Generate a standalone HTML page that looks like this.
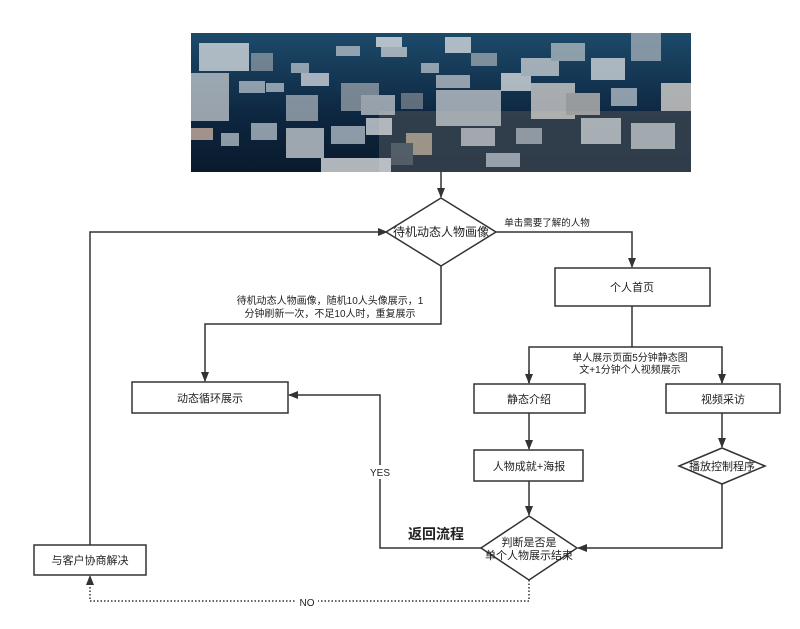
<!DOCTYPE html>
<html><head><meta charset="utf-8"><style>
body{margin:0;background:#fff;width:800px;height:624px;overflow:hidden}
svg text{font-family:"Liberation Sans","Noto Sans CJK SC",sans-serif;fill:#222}
</style></head><body>
<svg width="800" height="624" viewBox="0 0 800 624" xmlns="http://www.w3.org/2000/svg">
<defs>
<linearGradient id="bg" x1="0" y1="0" x2="0" y2="1"><stop offset="0" stop-color="#1d4a6a"/><stop offset="0.6" stop-color="#0d2640"/><stop offset="1" stop-color="#0a1a2c"/></linearGradient>
<marker id="a" markerWidth="10" markerHeight="10" refX="9" refY="5" orient="auto" markerUnits="userSpaceOnUse"><path d="M0,1 L10,5 L0,9 z" fill="#333"/></marker>
</defs>
<g transform="translate(191,33)">
<rect width="500" height="139" fill="url(#bg)"/>
<rect x="188" y="78" width="312" height="61" fill="#3a4550" opacity="0.8"/>
<g fill="#b9c3cc" opacity="0.75">
<rect x="8" y="10" width="50" height="28" fill="#dfe3e6"/><rect x="0" y="40" width="38" height="48" fill="#c7ccd0"/>
<rect x="48" y="48" width="26" height="12"/><rect x="60" y="20" width="22" height="18" fill="#8e9aa5"/>
<rect x="75" y="50" width="18" height="9"/><rect x="100" y="30" width="18" height="10"/>
<rect x="110" y="40" width="28" height="13" fill="#d7dde2"/><rect x="150" y="50" width="38" height="28" fill="#9aa3ab"/>
<rect x="170" y="62" width="34" height="20" fill="#c4c9cd"/><rect x="210" y="60" width="22" height="16" fill="#7d868e"/>
<rect x="95" y="62" width="32" height="26" fill="#a9b2ba"/><rect x="95" y="95" width="38" height="30" fill="#cfd4d8"/>
<rect x="60" y="90" width="26" height="17"/><rect x="30" y="100" width="18" height="13"/>
<rect x="0" y="95" width="22" height="12" fill="#d4b8a8"/><rect x="140" y="93" width="34" height="18"/>
<rect x="175" y="85" width="26" height="17" fill="#dde0e2"/><rect x="130" y="125" width="70" height="14" fill="#e8e9ea"/>
<rect x="215" y="100" width="26" height="22" fill="#c0b29e"/><rect x="190" y="14" width="26" height="10" fill="#cdd2d6"/>
<rect x="145" y="13" width="24" height="10"/><rect x="185" y="4" width="26" height="10" fill="#e8e9ea"/>
<rect x="254" y="4" width="26" height="16" fill="#e0e3e5"/><rect x="280" y="20" width="26" height="13" fill="#a0a9b1"/>
<rect x="245" y="42" width="34" height="13" fill="#bfc6cc"/><rect x="245" y="57" width="65" height="36" fill="#c9ced2"/>
<rect x="310" y="40" width="30" height="18" fill="#e1e4e6"/><rect x="330" y="25" width="38" height="18" fill="#d0d5d9"/>
<rect x="360" y="10" width="34" height="18" fill="#b6bfc6"/><rect x="340" y="50" width="44" height="36" fill="#d9d6d2"/>
<rect x="375" y="60" width="34" height="22" fill="#c5c0bb"/><rect x="420" y="55" width="26" height="18"/>
<rect x="440" y="0" width="30" height="28" fill="#a8b2bb"/><rect x="470" y="50" width="30" height="28" fill="#e2dcd4"/>
<rect x="390" y="85" width="40" height="26" fill="#d1d5d8"/><rect x="440" y="90" width="44" height="26" fill="#c8cdd1"/>
<rect x="270" y="95" width="34" height="18" fill="#c9ccce"/><rect x="325" y="95" width="26" height="16" fill="#b0b8be"/>
<rect x="200" y="110" width="22" height="22" fill="#5e6973"/><rect x="295" y="120" width="34" height="14"/>
<rect x="400" y="25" width="34" height="22" fill="#dce0e3"/><rect x="230" y="30" width="18" height="10"/>
</g>
</g>
<g stroke="#333" stroke-width="1.5" fill="none">
<line x1="441" y1="172" x2="441" y2="197" marker-end="url(#a)"/>
<polygon points="441,198 496,232 441,266 386,232" fill="#fff"/>
<polyline points="90,545 90,232 387,232" marker-end="url(#a)"/>
<polyline points="496,232 632,232 632,267" marker-end="url(#a)"/>
<rect x="555" y="268" width="155" height="38" fill="#fff"/>
<polyline points="441,266 441,324 205,324 205,381" marker-end="url(#a)"/>
<rect x="132" y="382" width="156" height="31" fill="#fff"/>
<line x1="632" y1="306" x2="632" y2="347"/>
<polyline points="529,383 529,347 722,347 722,383"/>
<line x1="529" y1="370" x2="529" y2="383" marker-end="url(#a)"/>
<line x1="722" y1="370" x2="722" y2="383" marker-end="url(#a)"/>
<rect x="474" y="384" width="111" height="29" fill="#fff"/>
<rect x="666" y="384" width="114" height="29" fill="#fff"/>
<line x1="529" y1="413" x2="529" y2="449" marker-end="url(#a)"/>
<rect x="474" y="450" width="109" height="31" fill="#fff"/>
<line x1="529" y1="481" x2="529" y2="515" marker-end="url(#a)"/>
<polygon points="529,516 577,548 529,580 481,548" fill="#fff"/>
<line x1="722" y1="413" x2="722" y2="447" marker-end="url(#a)"/>
<polygon points="722,448 765,466 722,484 679,466" fill="#fff"/>
<polyline points="722,484 722,548 578,548" marker-end="url(#a)"/>
<polyline points="481,548 380,548 380,395 289,395" marker-end="url(#a)"/>
<rect x="34" y="545" width="112" height="30" fill="#fff"/>
<polyline points="529,580 529,601 90,601 90,576" stroke-dasharray="1.5,2" marker-end="url(#a)"/>
</g>
<rect x="370" y="465" width="20" height="14" fill="#fff"/>
<rect x="296" y="596" width="22" height="12" fill="#fff"/>
<g font-size="11" text-anchor="middle">
<text x="441" y="236" font-size="12">待机动态人物画像</text>
<text x="547" y="226" font-size="9.5">单击需要了解的人物</text>
<text x="330" y="304" font-size="10">待机动态人物画像，随机10人头像展示，1</text>
<text x="330" y="317" font-size="10">分钟刷新一次，不足10人时，重复展示</text>
<text x="632" y="291">个人首页</text>
<text x="210" y="402">动态循环展示</text>
<text x="630" y="361" font-size="10">单人展示页面5分钟静态图</text>
<text x="630" y="373" font-size="10">文+1分钟个人视频展示</text>
<text x="529" y="403">静态介绍</text>
<text x="723" y="403">视频采访</text>
<text x="529" y="470">人物成就+海报</text>
<text x="722" y="470">播放控制程序</text>
<text x="529" y="546">判断是否是</text>
<text x="529" y="559">单个人物展示结束</text>
<text x="380" y="476" font-size="10">YES</text>
<text x="436" y="539" font-size="14" font-weight="bold">返回流程</text>
<text x="90" y="564">与客户协商解决</text>
<text x="307" y="606" font-size="10">NO</text>
</g>
</svg>
</body></html>
